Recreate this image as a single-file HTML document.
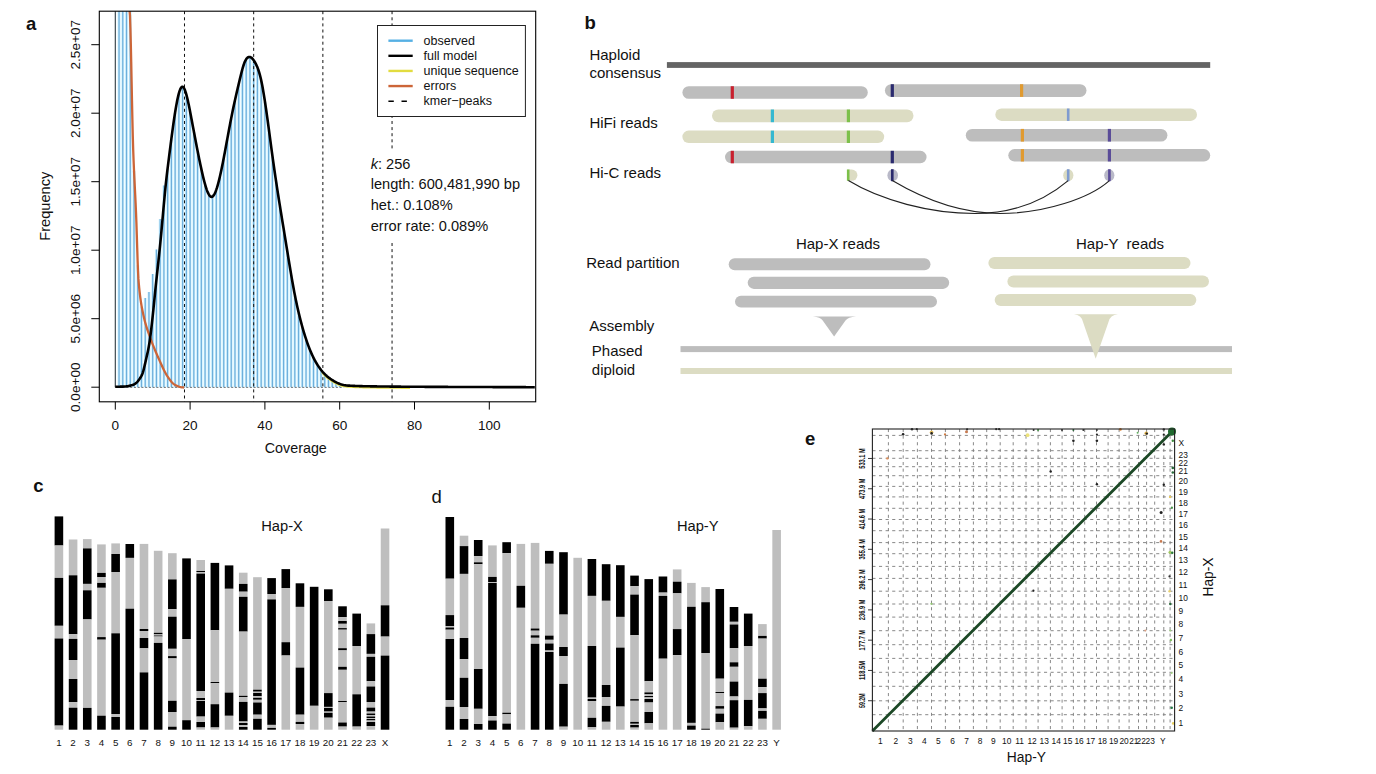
<!DOCTYPE html>
<html><head><meta charset="utf-8"><style>
html,body{margin:0;padding:0;background:#fff;width:1376px;height:774px;overflow:hidden}
svg{display:block}
text{font-family:"Liberation Sans", sans-serif;fill:#111}
</style></head><body>
<svg width="1376" height="774" viewBox="0 0 1376 774">
<rect width="1376" height="774" fill="#fff"/>
<g id="panel-a">
<path d="M119.04 387.2V11.2M122.78 387.2V11.2M126.52 387.2V11.2M130.26 387.2V11.2M134 387.2V171.08M137.74 387.2V265.2M141.48 387.2V306.38M145.22 387.2V298M148.96 387.2V292M152.7 387.2V274M156.44 387.2V249.6M160.18 387.2V219M163.92 387.2V185.4M167.66 387.2V168.74M171.4 387.2V139.37M175.14 387.2V113.02M178.88 387.2V94.18M182.62 387.2V87.55M186.36 387.2V95.36M190.1 387.2V112.39M193.84 387.2V132.21M197.58 387.2V151.65M201.32 387.2V169.76M205.06 387.2V185.14M208.8 387.2V195.23M212.54 387.2V197.31M216.28 387.2V190.49M220.02 387.2V176.84M223.76 387.2V158.74M227.5 387.2V138.59M231.24 387.2V118.75M234.98 387.2V100.93M238.72 387.2V84.72M242.46 387.2V69.69M246.2 387.2V60.01M249.94 387.2V57.81M253.68 387.2V61.02M257.42 387.2V68.19M261.16 387.2V81.02M264.9 387.2V102.11M268.64 387.2V128.53M272.38 387.2V156.4M276.12 387.2V182.41M279.86 387.2V206.42M283.6 387.2V229.41M287.34 387.2V252.35M291.08 387.2V274.99M294.82 387.2V295.64M298.56 387.2V313M302.3 387.2V327.65M306.04 387.2V339.97M309.78 387.2V350.2M313.52 387.2V358.57M317.26 387.2V365.32M321 387.2V370.69M324.74 387.2V374.91M328.48 387.2V378.22M332.22 387.2V380.85M335.96 387.2V382.98M339.7 387.2V384.67M343.44 387.2V385.79M347.18 387.2V386.33M350.92 387.2V386.53M354.66 387.2V386.72M358.4 387.2V386.85" stroke="#d2f3ff" stroke-width="3.0" fill="none"/>
<path d="M119.04 387.2V11.2M122.78 387.2V11.2M126.52 387.2V11.2M130.26 387.2V11.2M134 387.2V171.08M137.74 387.2V265.2M141.48 387.2V306.38M145.22 387.2V298M148.96 387.2V292M152.7 387.2V274M156.44 387.2V249.6M160.18 387.2V219M163.92 387.2V185.4M167.66 387.2V168.74M171.4 387.2V139.37M175.14 387.2V113.02M178.88 387.2V94.18M182.62 387.2V87.55M186.36 387.2V95.36M190.1 387.2V112.39M193.84 387.2V132.21M197.58 387.2V151.65M201.32 387.2V169.76M205.06 387.2V185.14M208.8 387.2V195.23M212.54 387.2V197.31M216.28 387.2V190.49M220.02 387.2V176.84M223.76 387.2V158.74M227.5 387.2V138.59M231.24 387.2V118.75M234.98 387.2V100.93M238.72 387.2V84.72M242.46 387.2V69.69M246.2 387.2V60.01M249.94 387.2V57.81M253.68 387.2V61.02M257.42 387.2V68.19M261.16 387.2V81.02M264.9 387.2V102.11M268.64 387.2V128.53M272.38 387.2V156.4M276.12 387.2V182.41M279.86 387.2V206.42M283.6 387.2V229.41M287.34 387.2V252.35M291.08 387.2V274.99M294.82 387.2V295.64M298.56 387.2V313M302.3 387.2V327.65M306.04 387.2V339.97M309.78 387.2V350.2M313.52 387.2V358.57M317.26 387.2V365.32M321 387.2V370.69M324.74 387.2V374.91M328.48 387.2V378.22M332.22 387.2V380.85M335.96 387.2V382.98M339.7 387.2V384.67M343.44 387.2V385.79M347.18 387.2V386.33M350.92 387.2V386.53M354.66 387.2V386.72M358.4 387.2V386.85" stroke="#6eaedb" stroke-width="1.25" fill="none"/>
<line x1="115.3" y1="11.2" x2="115.3" y2="387.2" stroke="#2d3a40" stroke-width="1.1"/>
<line x1="115.3" y1="387.4" x2="343.44" y2="387.4" stroke="#333" stroke-width="0.9" stroke-dasharray="2 1.74" opacity="0.75"/>
<line x1="184.49" y1="11.2" x2="184.49" y2="401.8" stroke="#111" stroke-width="1" stroke-dasharray="3 3.1"/>
<line x1="253.68" y1="11.2" x2="253.68" y2="401.8" stroke="#111" stroke-width="1" stroke-dasharray="3 3.1"/>
<line x1="322.87" y1="11.2" x2="322.87" y2="401.8" stroke="#111" stroke-width="1" stroke-dasharray="3 3.1"/>
<line x1="392.06" y1="11.2" x2="392.06" y2="401.8" stroke="#111" stroke-width="1" stroke-dasharray="3 3.1"/>
<path d="M322 372.22L323 373.37L324 374.45L325 375.46L326 376.41L327 377.3L328 378.13L329 378.92L330 379.65L331 380.35L332 381.01L333 381.63L334 382.22L335 382.78L336 383.3L337 383.79L338 384.25L339 384.69L340 385.09L341 385.44L342 385.74L343 386L344 386.21L345 386.38L346 386.51L347 386.62L348 386.69L349 386.74L350 386.75L351 386.83L352 386.9L353 386.94L354 386.99L355 387.03L356 387.07L357 387.11L358 387.14L359 387.17L360 387.2L361 387.23L362 387.26L363 387.29L364 387.31L365 387.33L366 387.35L367 387.37L368 387.39L369 387.41L370 387.43L371 387.44L372 387.46L373 387.47L374 387.49L375 387.5L376 387.51L377 387.53L378 387.54L379 387.55L380 387.57L381 387.58L382 387.59L383 387.6L384 387.61L385 387.63L386 387.64L387 387.65L388 387.66L389 387.67L390 387.68L391 387.69L392 387.7L393 387.71L394 387.72L395 387.73L396 387.73L397 387.74L398 387.75L399 387.76L400 387.77L401 387.78L402 387.78L403 387.79L404 387.8L405 387.81L406 387.81L407 387.82L408 387.83L409 387.83L410 387.84" stroke="#e6e04a" stroke-width="2.2" fill="none"/>
<rect x="366" y="150" width="162" height="91.5" fill="#fff"/>
<path d="M129.6 11.2L130 15.38L130.4 27.56L130.8 43.37L131.2 61.64L131.6 81.25L132 101.03L132.4 119.85L132.8 136.55L133.2 150L133.6 160.67L134 170.08L134.4 178.62L134.8 186.7L135.2 194.7L135.6 203.03L136 212.08L136.4 222.56L136.8 234.85L137.2 247.8L137.6 260.21L138 270.89L138.4 278.66L138.8 283.5L139.2 287.77L139.6 291.63L140 295.11L140.4 298.26L140.8 301.11L141.2 303.7L141.6 306.07L142 308.26L142.4 310.31L142.8 312.25L143.2 314.12L143.6 315.96L144 317.72L144.4 319.39L144.8 320.98L145.2 322.48L145.6 323.91L146 325.28L146.4 326.59L146.8 327.85L147.2 329.07L147.6 330.26L148 331.42L148.4 332.56L148.8 333.69L149.2 334.82L149.6 335.95L150 337.09L150.4 338.22L150.8 339.33L151.2 340.42L151.6 341.5L152 342.57L152.4 343.61L152.8 344.65L153.2 345.67L153.6 346.67L154 347.67L154.4 348.65L154.8 349.62L155.2 350.58L155.6 351.53L156 352.47L156.4 353.4L156.8 354.32L157.2 355.24L157.6 356.15L158 357.05L158.4 357.94L158.8 358.83L159.2 359.72L159.6 360.61L160 361.5L160.4 362.4L160.8 363.29L161.2 364.19L161.6 365.07L162 365.96L162.4 366.83L162.8 367.7L163.2 368.55L163.6 369.39L164 370.21L164.4 371.02L164.8 371.8L165.2 372.57L165.6 373.31L166 374.03L166.4 374.72L166.8 375.38L167.2 376L167.6 376.6L168 377.18L168.4 377.75L168.8 378.31L169.2 378.87L169.6 379.41L170 379.95L170.4 380.47L170.8 380.97L171.2 381.45L171.6 381.92L172 382.36L172.4 382.78L172.8 383.17L173.2 383.53L173.6 383.87L174 384.17L174.4 384.44L174.8 384.68L175.2 384.92L175.6 385.14L176 385.37L176.4 385.58L176.8 385.78L177.2 385.98L177.6 386.16L178 386.33L178.4 386.49L178.8 386.64L179.2 386.78L179.6 386.9L180 387L180.4 387.1L180.8 387.17L181.2 387.23L181.6 387.28L182 387.34L182.4 387.39L182.8 387.43L183.2 387.46L183.6 387.49L184 387.5" stroke="#cc6538" stroke-width="2.3" fill="none" stroke-linejoin="round"/>
<path d="M115.3 386.8L115.8 386.79L116.3 386.78L116.8 386.77L117.3 386.75L117.8 386.74L118.3 386.73L118.8 386.71L119.3 386.7L119.8 386.69L120.3 386.67L120.8 386.66L121.3 386.65L121.8 386.63L122.3 386.62L122.8 386.6L123.3 386.58L123.8 386.56L124.3 386.54L124.8 386.51L125.3 386.48L125.8 386.44L126.3 386.39L126.8 386.33L127.3 386.26L127.8 386.18L128.3 386.08L128.8 385.98L129.3 385.87L129.8 385.76L130.3 385.63L130.8 385.49L131.3 385.34L131.8 385.19L132.3 385.03L132.8 384.85L133.3 384.67L133.8 384.48L134.3 384.24L134.8 383.95L135.3 383.61L135.8 383.23L136.3 382.8L136.8 382.33L137.3 381.81L137.8 381.25L138.3 380.64L138.8 379.99L139.3 379.31L139.8 378.58L140.3 377.81L140.8 377L141.3 376.15L141.8 375.22L142.3 374.02L142.8 372.57L143.3 370.91L143.8 369.05L144.3 367.04L144.8 364.91L145.3 362.69L145.8 360.41L146.3 358.19L146.8 356.04L147.3 353.89L147.8 351.66L148.3 349.25L148.8 346.6L149.3 343.67L149.8 340.43L150.3 336.86L150.8 332.93L151.3 328.72L151.8 324.3L152.3 319.78L152.8 315.13L153.3 310.32L153.8 305.39L154.3 300.39L154.8 295.39L155.3 290.44L155.8 285.6L156.3 280.84L156.8 276.14L157.3 271.5L157.8 266.89L158.3 262.28L158.8 257.64L159.3 252.93L159.8 248.1L160.3 243.12L160.8 237.96L161.3 232.62L161.8 227.16L162.3 221.62L162.8 216.05L163.3 210.48L163.8 204.96L164.3 199.52L164.8 194.23L165.3 189.11L165.8 184.22L166.3 179.57L166.8 175.15L167.3 170.91L167.8 166.81L168.3 162.8L168.8 158.85L169.3 154.92L169.8 150.99L170.3 147.08L170.8 143.19L171.3 139.34L171.8 135.54L172.3 131.8L172.8 128.12L173.3 124.54L173.8 121.04L174.3 117.65L174.8 114.37L175.3 111.23L175.8 108.21L176.3 105.35L176.8 102.65L177.3 100.12L177.8 97.78L178.3 95.62L178.8 93.67L179.3 91.94L179.8 90.44L180.3 89.17L180.8 88.16L181.3 87.4L181.8 86.92L182.3 86.72L182.8 86.81L183.3 87.18L183.8 87.81L184.3 88.69L184.8 89.8L185.3 91.12L185.8 92.64L186.3 94.35L186.8 96.22L187.3 98.24L187.8 100.39L188.3 102.67L188.8 105.05L189.3 107.51L189.8 110.04L190.3 112.63L190.8 115.26L191.3 117.91L191.8 120.57L192.3 123.23L192.8 125.89L193.3 128.54L193.8 131.2L194.3 133.84L194.8 136.47L195.3 139.1L195.8 141.71L196.3 144.3L196.8 146.88L197.3 149.43L197.8 151.96L198.3 154.47L198.8 156.95L199.3 159.4L199.8 161.82L200.3 164.21L200.8 166.56L201.3 168.87L201.8 171.14L202.3 173.35L202.8 175.51L203.3 177.6L203.8 179.61L204.3 181.55L204.8 183.41L205.3 185.17L205.8 186.84L206.3 188.4L206.8 189.86L207.3 191.19L207.8 192.4L208.3 193.48L208.8 194.43L209.3 195.23L209.8 195.88L210.3 196.37L210.8 196.7L211.3 196.86L211.8 196.85L212.3 196.66L212.8 196.31L213.3 195.8L213.8 195.13L214.3 194.3L214.8 193.34L215.3 192.24L215.8 191L216.3 189.63L216.8 188.15L217.3 186.54L217.8 184.83L218.3 183.01L218.8 181.1L219.3 179.09L219.8 176.99L220.3 174.81L220.8 172.55L221.3 170.23L221.8 167.83L222.3 165.38L222.8 162.88L223.3 160.33L223.8 157.73L224.3 155.1L224.8 152.44L225.3 149.76L225.8 147.05L226.3 144.33L226.8 141.61L227.3 138.88L227.8 136.15L228.3 133.43L228.8 130.73L229.3 128.05L229.8 125.4L230.3 122.77L230.8 120.19L231.3 117.65L231.8 115.15L232.3 112.69L232.8 110.27L233.3 107.89L233.8 105.54L234.3 103.23L234.8 100.95L235.3 98.69L235.8 96.47L236.3 94.27L236.8 92.09L237.3 89.94L237.8 87.8L238.3 85.68L238.8 83.58L239.3 81.49L239.8 79.41L240.3 77.35L240.8 75.3L241.3 73.3L241.8 71.35L242.3 69.47L242.8 67.69L243.3 66.02L243.8 64.48L244.3 63.1L244.8 61.86L245.3 60.78L245.8 59.85L246.3 59.06L246.8 58.4L247.3 57.88L247.8 57.47L248.3 57.19L248.8 57.01L249.3 56.95L249.8 56.98L250.3 57.11L250.8 57.33L251.3 57.64L251.8 58.04L252.3 58.51L252.8 59.07L253.3 59.7L253.8 60.39L254.3 61.16L254.8 61.99L255.3 62.88L255.8 63.83L256.3 64.84L256.8 65.93L257.3 67.1L257.8 68.36L258.3 69.74L258.8 71.23L259.3 72.85L259.8 74.62L260.3 76.54L260.8 78.62L261.3 80.87L261.8 83.29L262.3 85.85L262.8 88.57L263.3 91.41L263.8 94.38L264.3 97.47L264.8 100.66L265.3 103.95L265.8 107.33L266.3 110.78L266.8 114.31L267.3 117.9L267.8 121.53L268.3 125.21L268.8 128.92L269.3 132.66L269.8 136.4L270.3 140.16L270.8 143.9L271.3 147.63L271.8 151.34L272.3 155.02L272.8 158.65L273.3 162.24L273.8 165.78L274.3 169.26L274.8 172.71L275.3 176.11L275.8 179.48L276.3 182.8L276.8 186.09L277.3 189.35L277.8 192.58L278.3 195.78L278.8 198.96L279.3 202.11L279.8 205.24L280.3 208.35L280.8 211.45L281.3 214.54L281.8 217.61L282.3 220.67L282.8 223.73L283.3 226.78L283.8 229.83L284.3 232.88L284.8 235.94L285.3 238.99L285.8 242.06L286.3 245.14L286.8 248.22L287.3 251.3L287.8 254.38L288.3 257.45L288.8 260.51L289.3 263.55L289.8 266.58L290.3 269.58L290.8 272.55L291.3 275.48L291.8 278.38L292.3 281.24L292.8 284.05L293.3 286.81L293.8 289.51L294.3 292.16L294.8 294.74L295.3 297.25L295.8 299.7L296.3 302.09L296.8 304.42L297.3 306.7L297.8 308.92L298.3 311.09L298.8 313.22L299.3 315.3L299.8 317.33L300.3 319.32L300.8 321.27L301.3 323.17L301.8 325.03L302.3 326.85L302.8 328.63L303.3 330.36L303.8 332.06L304.3 333.72L304.8 335.33L305.3 336.91L305.8 338.45L306.3 339.95L306.8 341.41L307.3 342.84L307.8 344.23L308.3 345.59L308.8 346.91L309.3 348.2L309.8 349.45L310.3 350.67L310.8 351.86L311.3 353.01L311.8 354.14L312.3 355.23L312.8 356.29L313.3 357.33L313.8 358.33L314.3 359.31L314.8 360.25L315.3 361.17L315.8 362.07L316.3 362.93L316.8 363.77L317.3 364.59L317.8 365.38L318.3 366.14L318.8 366.89L319.3 367.61L319.8 368.3L320.3 368.98L320.8 369.63L321.3 370.27L321.8 370.88L322.3 371.47L322.8 372.05L323.3 372.6L323.8 373.14L324.3 373.66L324.8 374.17L325.3 374.66L325.8 375.13L326.3 375.58L326.8 376.03L327.3 376.46L327.8 376.87L328.3 377.27L328.8 377.66L329.3 378.04L329.8 378.41L330.3 378.77L330.8 379.11L331.3 379.45L331.8 379.78L332.3 380.1L332.8 380.41L333.3 380.71L333.8 381L334.3 381.29L334.8 381.57L335.3 381.84L335.8 382.1L336.3 382.35L336.8 382.6L337.3 382.83L337.8 383.06L338.3 383.29L338.8 383.5L339.3 383.71L339.8 383.91L340.3 384.1L340.8 384.28L341.3 384.44L341.8 384.59L342.3 384.72L342.8 384.85L343.3 384.96L343.8 385.07L344.3 385.16L344.8 385.25L345.3 385.32L345.8 385.39L346.3 385.45L346.8 385.5L347.3 385.54L347.8 385.58L348.3 385.61L348.8 385.63L349.3 385.64L349.8 385.65L350.3 385.68L350.8 385.72L351.3 385.75L351.8 385.78L352.3 385.81L352.8 385.83L353.3 385.86L353.8 385.88L354.3 385.9L354.8 385.92L355.3 385.94L355.8 385.96L356.3 385.98L356.8 386L357.3 386.02L357.8 386.03L358.3 386.05L358.8 386.07L359.3 386.08L359.8 386.1L360.3 386.11L360.8 386.13L361.3 386.14L361.8 386.15L362.3 386.17L362.8 386.18L363.3 386.19L363.8 386.2L364.3 386.22L364.8 386.23L365.3 386.24L365.8 386.25L366.3 386.26L366.8 386.27L367.3 386.28L367.8 386.29L368.3 386.3L368.8 386.3L369.3 386.31L369.8 386.32L370.3 386.33L370.8 386.34L371.3 386.35L371.8 386.35L372.3 386.36L372.8 386.37L373.3 386.38L373.8 386.38L374.3 386.39L374.8 386.4L375.3 386.4L375.8 386.41L376.3 386.42L376.8 386.42L377.3 386.43L377.8 386.44L378.3 386.44L378.8 386.45L379.3 386.46L379.8 386.46L380.3 386.47L380.8 386.48L381.3 386.48L381.8 386.49L382.3 386.49L382.8 386.5L383.3 386.51L383.8 386.51L384.3 386.52L384.8 386.52L385.3 386.53L385.8 386.53L386.3 386.54L386.8 386.55L387.3 386.55L387.8 386.56L388.3 386.56L388.8 386.57L389.3 386.57L389.8 386.58L390.3 386.58L390.8 386.59L391.3 386.59L391.8 386.6L392.3 386.6L392.8 386.61L393.3 386.61L393.8 386.62L394.3 386.62L394.8 386.62L395.3 386.63L395.8 386.63L396.3 386.64L396.8 386.64L397.3 386.65L397.8 386.65L398.3 386.65L398.8 386.66L399.3 386.66L399.8 386.67L400.3 386.67L400.8 386.67L401.3 386.68L401.8 386.68L402.3 386.69L402.8 386.69L403.3 386.69L403.8 386.7L404.3 386.7L404.8 386.7L405.3 386.71L405.8 386.71L406.3 386.72L406.8 386.72L407.3 386.72L407.8 386.73L408.3 386.73L408.8 386.73L409.3 386.74L409.8 386.74L410.3 386.74L410.8 386.75L411.3 386.75L411.8 386.75L412.3 386.75L412.8 386.76L413.3 386.76L413.8 386.76L414.3 386.77L414.8 386.77L415.3 386.77L415.8 386.78L416.3 386.78L416.8 386.78L417.3 386.78L417.8 386.79L418.3 386.79L418.8 386.79L419.3 386.8L419.8 386.8L420.3 386.8L420.8 386.8L421.3 386.81L421.8 386.81L422.3 386.81L422.8 386.82L423.3 386.82L423.8 386.82L424.3 386.82L424.8 386.83L425.3 386.83L425.8 386.83L426.3 386.83L426.8 386.84L427.3 386.84L427.8 386.84L428.3 386.84L428.8 386.85L429.3 386.85L429.8 386.85L430.3 386.85L430.8 386.85L431.3 386.86L431.8 386.86L432.3 386.86L432.8 386.86L433.3 386.87L433.8 386.87L434.3 386.87L434.8 386.87L435.3 386.87L435.8 386.88L436.3 386.88L436.8 386.88L437.3 386.88L437.8 386.88L438.3 386.89L438.8 386.89L439.3 386.89L439.8 386.89L440.3 386.89L440.8 386.9L441.3 386.9L441.8 386.9L442.3 386.9L442.8 386.9L443.3 386.91L443.8 386.91L444.3 386.91L444.8 386.91L445.3 386.91L445.8 386.92L446.3 386.92L446.8 386.92L447.3 386.92L447.8 386.92L448.3 386.93L448.8 386.93L449.3 386.93L449.8 386.93L450.3 386.93L450.8 386.93L451.3 386.94L451.8 386.94L452.3 386.94L452.8 386.94L453.3 386.94L453.8 386.94L454.3 386.95L454.8 386.95L455.3 386.95L455.8 386.95L456.3 386.95L456.8 386.95L457.3 386.96L457.8 386.96L458.3 386.96L458.8 386.96L459.3 386.96L459.8 386.97L460.3 386.97L460.8 386.97L461.3 386.97L461.8 386.97L462.3 386.97L462.8 386.98L463.3 386.98L463.8 386.98L464.3 386.98L464.8 386.98L465.3 386.98L465.8 386.99L466.3 386.99L466.8 386.99L467.3 386.99L467.8 386.99L468.3 386.99L468.8 387L469.3 387L469.8 387L470.3 387L470.8 387L471.3 387L471.8 387.01L472.3 387.01L472.8 387.01L473.3 387.01L473.8 387.01L474.3 387.01L474.8 387.02L475.3 387.02L475.8 387.02L476.3 387.02L476.8 387.02L477.3 387.03L477.8 387.03L478.3 387.03L478.8 387.03L479.3 387.03L479.8 387.03L480.3 387.04L480.8 387.04L481.3 387.04L481.8 387.04L482.3 387.04L482.8 387.04L483.3 387.05L483.8 387.05L484.3 387.05L484.8 387.05L485.3 387.05L485.8 387.05L486.3 387.06L486.8 387.06L487.3 387.06L487.8 387.06L488.3 387.06L488.8 387.06L489.3 387.07L489.8 387.07L490.3 387.07L490.8 387.07L491.3 387.07L491.8 387.07L492.3 387.07L492.8 387.08L493.3 387.08L493.8 387.08L494.3 387.08L494.8 387.08L495.3 387.08L495.8 387.09L496.3 387.09L496.8 387.09L497.3 387.09L497.8 387.09L498.3 387.09L498.8 387.1L499.3 387.1L499.8 387.1L500.3 387.1L500.8 387.1L501.3 387.1L501.8 387.1L502.3 387.11L502.8 387.11L503.3 387.11L503.8 387.11L504.3 387.11L504.8 387.11L505.3 387.12L505.8 387.12L506.3 387.12L506.8 387.12L507.3 387.12L507.8 387.12L508.3 387.12L508.8 387.13L509.3 387.13L509.8 387.13L510.3 387.13L510.8 387.13L511.3 387.13L511.8 387.13L512.3 387.14L512.8 387.14L513.3 387.14L513.8 387.14L514.3 387.14L514.8 387.14L515.3 387.15L515.8 387.15L516.3 387.15L516.8 387.15L517.3 387.15L517.8 387.15L518.3 387.15L518.8 387.16L519.3 387.16L519.8 387.16L520.3 387.16L520.8 387.16L521.3 387.16L521.8 387.16L522.3 387.16L522.8 387.17L523.3 387.17L523.8 387.17L524.3 387.17L524.8 387.17L525.3 387.17L525.8 387.17L526.3 387.18L526.8 387.18L527.3 387.18L527.8 387.18L528.3 387.18L528.8 387.18L529.3 387.18L529.8 387.18L530.3 387.19L530.8 387.19L531.3 387.19L531.8 387.19L532.3 387.19L532.8 387.19L533.3 387.19L533.8 387.2L534.3 387.2L534.8 387.2" stroke="#000" stroke-width="2.6" fill="none" stroke-linejoin="round"/>
<rect x="99.3" y="11.2" width="436.4" height="390.6" fill="none" stroke="#000" stroke-width="1.1"/>
<line x1="91.3" y1="387.2" x2="99.3" y2="387.2" stroke="#000" stroke-width="1"/>
<text transform="translate(80.2 387.2) rotate(-90)" text-anchor="middle" font-size="13.6">0.0e+00</text>
<line x1="91.3" y1="318.7" x2="99.3" y2="318.7" stroke="#000" stroke-width="1"/>
<text transform="translate(80.2 318.7) rotate(-90)" text-anchor="middle" font-size="13.6">5.0e+06</text>
<line x1="91.3" y1="250.2" x2="99.3" y2="250.2" stroke="#000" stroke-width="1"/>
<text transform="translate(80.2 250.2) rotate(-90)" text-anchor="middle" font-size="13.6">1.0e+07</text>
<line x1="91.3" y1="181.7" x2="99.3" y2="181.7" stroke="#000" stroke-width="1"/>
<text transform="translate(80.2 181.7) rotate(-90)" text-anchor="middle" font-size="13.6">1.5e+07</text>
<line x1="91.3" y1="113.2" x2="99.3" y2="113.2" stroke="#000" stroke-width="1"/>
<text transform="translate(80.2 113.2) rotate(-90)" text-anchor="middle" font-size="13.6">2.0e+07</text>
<line x1="91.3" y1="44.7" x2="99.3" y2="44.7" stroke="#000" stroke-width="1"/>
<text transform="translate(80.2 44.7) rotate(-90)" text-anchor="middle" font-size="13.6">2.5e+07</text>
<line x1="115.3" y1="401.8" x2="115.3" y2="409.6" stroke="#000" stroke-width="1"/>
<text x="115.3" y="429.6" text-anchor="middle" font-size="13.6">0</text>
<line x1="190.1" y1="401.8" x2="190.1" y2="409.6" stroke="#000" stroke-width="1"/>
<text x="190.1" y="429.6" text-anchor="middle" font-size="13.6">20</text>
<line x1="264.9" y1="401.8" x2="264.9" y2="409.6" stroke="#000" stroke-width="1"/>
<text x="264.9" y="429.6" text-anchor="middle" font-size="13.6">40</text>
<line x1="339.7" y1="401.8" x2="339.7" y2="409.6" stroke="#000" stroke-width="1"/>
<text x="339.7" y="429.6" text-anchor="middle" font-size="13.6">60</text>
<line x1="414.5" y1="401.8" x2="414.5" y2="409.6" stroke="#000" stroke-width="1"/>
<text x="414.5" y="429.6" text-anchor="middle" font-size="13.6">80</text>
<line x1="489.3" y1="401.8" x2="489.3" y2="409.6" stroke="#000" stroke-width="1"/>
<text x="489.3" y="429.6" text-anchor="middle" font-size="13.6">100</text>
<text x="295.8" y="452.5" text-anchor="middle" font-size="14.3">Coverage</text>
<text transform="translate(50.2 206.2) rotate(-90)" text-anchor="middle" font-size="14.6">Frequency</text>
<rect x="377.5" y="25.5" width="147.9" height="91" fill="#fff" stroke="#222" stroke-width="1"/>
<line x1="388.4" y1="40.7" x2="412.7" y2="40.7" stroke="#56b0e4" stroke-width="2.4"/>
<text x="423.6" y="45" font-size="12.5">observed</text>
<line x1="388.4" y1="55.82" x2="412.7" y2="55.82" stroke="#000" stroke-width="2.4"/>
<text x="423.6" y="60.12" font-size="12.5">full model</text>
<line x1="388.4" y1="70.94" x2="412.7" y2="70.94" stroke="#e2dc40" stroke-width="2.4"/>
<text x="423.6" y="75.24" font-size="12.5">unique sequence</text>
<line x1="388.4" y1="86.06" x2="412.7" y2="86.06" stroke="#cc6538" stroke-width="2.4"/>
<text x="423.6" y="90.36" font-size="12.5">errors</text>
<line x1="388.4" y1="101.18" x2="412.7" y2="101.18" stroke="#000" stroke-width="1.6" stroke-dasharray="5.4 7.7"/>
<text x="423.6" y="105.48" font-size="12.5">kmer−peaks</text>
<text x="370.7" y="168.7" font-size="14.6"><tspan font-style="italic">k</tspan>: 256</text>
<text x="370.7" y="189.3" font-size="14.6">length: 600,481,990 bp</text>
<text x="370.7" y="209.9" font-size="14.6">het.: 0.108%</text>
<text x="370.7" y="230.5" font-size="14.6">error rate: 0.089%</text>
<text x="26" y="29.7" font-size="18.5" font-weight="bold">a</text>
</g>
<g id="panel-b">
<text x="584.5" y="29" font-size="18.5" font-weight="bold">b</text>
<rect x="666.9" y="62.1" width="543.3" height="5.8" fill="#646464"/>
<rect x="682.4" y="86.2" width="185.4" height="12.6" rx="6.3" ry="6.3" fill="#bdbdbd"/>
<rect x="730.7" y="86.2" width="3.2" height="12.6" fill="#c8202e"/>
<rect x="884.9" y="84.2" width="201.6" height="12.7" rx="6.35" ry="6.35" fill="#bdbdbd"/>
<rect x="890.7" y="84.2" width="3.2" height="12.7" fill="#2a2a6e"/>
<rect x="1020" y="84.2" width="3.2" height="12.7" fill="#e09a30"/>
<rect x="712" y="109.5" width="201.5" height="12.7" rx="6.35" ry="6.35" fill="#dcdcc3"/>
<rect x="770.8" y="109.5" width="3.2" height="12.7" fill="#35b8d0"/>
<rect x="846.8" y="109.5" width="3.2" height="12.7" fill="#7cc04a"/>
<rect x="995.3" y="108.5" width="201.7" height="12.4" rx="6.2" ry="6.2" fill="#dcdcc3"/>
<rect x="1066.9" y="108.5" width="2.6" height="12.4" fill="#7f9bd0"/>
<rect x="682.4" y="130.6" width="201.8" height="12.4" rx="6.2" ry="6.2" fill="#dcdcc3"/>
<rect x="770.8" y="130.6" width="3.2" height="12.4" fill="#35b8d0"/>
<rect x="846.8" y="130.6" width="3.2" height="12.4" fill="#7cc04a"/>
<rect x="965.8" y="128.9" width="201.6" height="12.7" rx="6.35" ry="6.35" fill="#bdbdbd"/>
<rect x="1020.8" y="128.9" width="3.2" height="12.7" fill="#e09a30"/>
<rect x="1107.8" y="128.9" width="3.2" height="12.7" fill="#5a4c98"/>
<rect x="725" y="150.8" width="201.6" height="12.5" rx="6.25" ry="6.25" fill="#bdbdbd"/>
<rect x="730.7" y="150.8" width="3.2" height="12.5" fill="#c8202e"/>
<rect x="890.7" y="150.8" width="3.2" height="12.5" fill="#2a2a6e"/>
<rect x="1008.3" y="149.1" width="201.9" height="12.4" rx="6.2" ry="6.2" fill="#bdbdbd"/>
<rect x="1020.8" y="149.1" width="3.2" height="12.4" fill="#e09a30"/>
<rect x="1107.8" y="149.1" width="3.2" height="12.4" fill="#5a4c98"/>
<path d="M847.2 169.5H851.75A5.65 5.65 0 0 1 851.75 180.8H847.2Z" fill="#dcdcc3"/>
<rect x="846.9" y="169.5" width="2.6" height="11.3" fill="#7cc04a"/>
<rect x="887.4" y="169.2" width="10.6" height="12" rx="6" ry="6" fill="#b9b9c8"/>
<rect x="891" y="169.2" width="2.6" height="12" fill="#2a2a6e"/>
<rect x="1063.2" y="169.2" width="10.2" height="12" rx="6" ry="6" fill="#dcdcc3"/>
<rect x="1066.9" y="169.2" width="2.6" height="12" fill="#7f9bd0"/>
<rect x="1104.2" y="169.2" width="10.2" height="12" rx="6" ry="6" fill="#b9b9c8"/>
<rect x="1108.1" y="169.2" width="2.6" height="12" fill="#5a4c98"/>
<path d="M848.4 180.6 C 880 200, 930 213.5, 975 213.5 C 1020 213.5, 1050 196, 1068.2 180.6" stroke="#222" stroke-width="1.15" fill="none"/>
<path d="M892.3 180.6 C 925 200, 960 213.5, 1000 213.5 C 1045 213.5, 1090 198, 1109.4 180.6" stroke="#222" stroke-width="1.15" fill="none"/>
<text x="589.4" y="60" font-size="15">Haploid</text>
<text x="589.4" y="77.6" font-size="15">consensus</text>
<text x="589.4" y="128" font-size="15">HiFi reads</text>
<text x="589.4" y="178.4" font-size="15">Hi-C reads</text>
<text x="586.2" y="267.6" font-size="15">Read partition</text>
<text x="589.3" y="331" font-size="15">Assembly</text>
<text x="591.8" y="355.5" font-size="15">Phased</text>
<text x="591.8" y="374.5" font-size="15">diploid</text>
<text x="795.9" y="248.9" font-size="15">Hap-X reads</text>
<text x="1076" y="249" font-size="15" xml:space="preserve">Hap-Y  reads</text>
<rect x="728.7" y="258.3" width="201.8" height="11.9" rx="5.95" ry="5.95" fill="#bdbdbd"/>
<rect x="747.7" y="276.7" width="201.5" height="12.2" rx="6.1" ry="6.1" fill="#bdbdbd"/>
<rect x="735" y="295.7" width="202" height="11.9" rx="5.95" ry="5.95" fill="#bdbdbd"/>
<rect x="988.4" y="256.9" width="202.1" height="12" rx="6" ry="6" fill="#dcdcc3"/>
<rect x="1007.4" y="275.4" width="201.6" height="12.1" rx="6.05" ry="6.05" fill="#dcdcc3"/>
<rect x="994.7" y="294.1" width="201.6" height="12" rx="6" ry="6" fill="#dcdcc3"/>
<rect x="680.5" y="346.1" width="551.5" height="6" fill="#bdbdbd"/>
<rect x="680.5" y="368" width="551.5" height="6" fill="#dcdcc3"/>
<path d="M812.9 316.4 H856.1 Q848 317 845.5 320.5 L834.1 336.4 L822.7 320.5 Q820.5 317 812.9 316.4 Z" fill="#bdbdbd"/>
<path d="M1074 314.3 H1118 Q1110 315 1108.5 322 L1095.7 358.7 L1083 322 Q1081.5 315 1074 314.3 Z" fill="#dcdcc3"/>
</g>
<g>
<rect x="54.6" y="516.4" width="8.6" height="29.1" fill="#000"/>
<rect x="54.6" y="545.5" width="8.6" height="32.4" fill="#bebebe"/>
<rect x="54.6" y="577.9" width="8.6" height="47.9" fill="#000"/>
<rect x="54.6" y="625.8" width="8.6" height="12.7" fill="#bebebe"/>
<rect x="54.6" y="638.5" width="8.6" height="87.1" fill="#000"/>
<rect x="54.6" y="725.6" width="8.6" height="4.1" fill="#bebebe"/>
<text x="58.9" y="745.7" text-anchor="middle" font-size="9.8" fill="#1a1a1a">1</text>
<rect x="68.78" y="539.5" width="8.6" height="35.8" fill="#bebebe"/>
<rect x="68.78" y="575.3" width="8.6" height="58.9" fill="#000"/>
<rect x="68.78" y="634.2" width="8.6" height="4.7" fill="#bebebe"/>
<rect x="68.78" y="638.9" width="8.6" height="21.1" fill="#000"/>
<rect x="68.78" y="660" width="8.6" height="19" fill="#bebebe"/>
<rect x="68.78" y="679" width="8.6" height="23.1" fill="#000"/>
<rect x="68.78" y="702.1" width="8.6" height="5.6" fill="#bebebe"/>
<rect x="68.78" y="707.7" width="8.6" height="22" fill="#000"/>
<text x="73.08" y="745.7" text-anchor="middle" font-size="9.8" fill="#1a1a1a">2</text>
<rect x="82.96" y="539.1" width="8.6" height="9.3" fill="#bebebe"/>
<rect x="82.96" y="548.4" width="8.6" height="35.5" fill="#000"/>
<rect x="82.96" y="583.9" width="8.6" height="6.4" fill="#bebebe"/>
<rect x="82.96" y="590.3" width="8.6" height="29.1" fill="#000"/>
<rect x="82.96" y="619.4" width="8.6" height="88.5" fill="#bebebe"/>
<rect x="82.96" y="707.9" width="8.6" height="21.8" fill="#000"/>
<text x="87.26" y="745.7" text-anchor="middle" font-size="9.8" fill="#1a1a1a">3</text>
<rect x="97.14" y="544.4" width="8.6" height="28.5" fill="#bebebe"/>
<rect x="97.14" y="572.9" width="8.6" height="4.1" fill="#000"/>
<rect x="97.14" y="577" width="8.6" height="5.9" fill="#bebebe"/>
<rect x="97.14" y="582.9" width="8.6" height="4.9" fill="#000"/>
<rect x="97.14" y="587.8" width="8.6" height="49.3" fill="#bebebe"/>
<rect x="97.14" y="637.1" width="8.6" height="2.6" fill="#000"/>
<rect x="97.14" y="639.7" width="8.6" height="76" fill="#bebebe"/>
<rect x="97.14" y="715.7" width="8.6" height="14" fill="#000"/>
<text x="101.44" y="745.7" text-anchor="middle" font-size="9.8" fill="#1a1a1a">4</text>
<rect x="111.32" y="543.4" width="8.6" height="10.6" fill="#bebebe"/>
<rect x="111.32" y="554" width="8.6" height="18" fill="#000"/>
<rect x="111.32" y="572" width="8.6" height="61.3" fill="#bebebe"/>
<rect x="111.32" y="633.3" width="8.6" height="80.7" fill="#000"/>
<rect x="111.32" y="714" width="8.6" height="3" fill="#bebebe"/>
<rect x="111.32" y="717" width="8.6" height="12.7" fill="#000"/>
<text x="115.62" y="745.7" text-anchor="middle" font-size="9.8" fill="#1a1a1a">5</text>
<rect x="125.5" y="544" width="8.6" height="13.9" fill="#000"/>
<rect x="125.5" y="557.9" width="8.6" height="50.8" fill="#bebebe"/>
<rect x="125.5" y="608.7" width="8.6" height="121" fill="#000"/>
<text x="129.8" y="745.7" text-anchor="middle" font-size="9.8" fill="#1a1a1a">6</text>
<rect x="139.68" y="543.9" width="8.6" height="85.1" fill="#bebebe"/>
<rect x="139.68" y="629" width="8.6" height="2" fill="#000"/>
<rect x="139.68" y="631" width="8.6" height="7" fill="#bebebe"/>
<rect x="139.68" y="638" width="8.6" height="10.3" fill="#000"/>
<rect x="139.68" y="648.3" width="8.6" height="24.1" fill="#bebebe"/>
<rect x="139.68" y="672.4" width="8.6" height="57.3" fill="#000"/>
<text x="143.98" y="745.7" text-anchor="middle" font-size="9.8" fill="#1a1a1a">7</text>
<rect x="153.86" y="550.8" width="8.6" height="82" fill="#bebebe"/>
<rect x="153.86" y="632.8" width="8.6" height="1.6" fill="#000"/>
<rect x="153.86" y="634.4" width="8.6" height="1.1" fill="#bebebe"/>
<rect x="153.86" y="635.5" width="8.6" height="1" fill="#000"/>
<rect x="153.86" y="636.5" width="8.6" height="6.4" fill="#bebebe"/>
<rect x="153.86" y="642.9" width="8.6" height="86.8" fill="#000"/>
<text x="158.16" y="745.7" text-anchor="middle" font-size="9.8" fill="#1a1a1a">8</text>
<rect x="168.04" y="553.2" width="8.6" height="26.2" fill="#bebebe"/>
<rect x="168.04" y="579.4" width="8.6" height="29.8" fill="#000"/>
<rect x="168.04" y="609.2" width="8.6" height="7.5" fill="#bebebe"/>
<rect x="168.04" y="616.7" width="8.6" height="32.1" fill="#000"/>
<rect x="168.04" y="648.8" width="8.6" height="7.3" fill="#bebebe"/>
<rect x="168.04" y="656.1" width="8.6" height="2.3" fill="#000"/>
<rect x="168.04" y="658.4" width="8.6" height="42.4" fill="#bebebe"/>
<rect x="168.04" y="700.8" width="8.6" height="11.2" fill="#000"/>
<rect x="168.04" y="712" width="8.6" height="14.7" fill="#bebebe"/>
<rect x="168.04" y="726.7" width="8.6" height="3" fill="#000"/>
<text x="172.34" y="745.7" text-anchor="middle" font-size="9.8" fill="#1a1a1a">9</text>
<rect x="182.22" y="558.4" width="8.6" height="80.6" fill="#000"/>
<rect x="182.22" y="639" width="8.6" height="81.2" fill="#bebebe"/>
<rect x="182.22" y="720.2" width="8.6" height="9.5" fill="#000"/>
<text x="186.52" y="745.7" text-anchor="middle" font-size="9.8" fill="#1a1a1a">10</text>
<rect x="196.4" y="560" width="8.6" height="11" fill="#bebebe"/>
<rect x="196.4" y="571" width="8.6" height="1" fill="#000"/>
<rect x="196.4" y="572" width="8.6" height="1.6" fill="#bebebe"/>
<rect x="196.4" y="573.6" width="8.6" height="117.4" fill="#000"/>
<rect x="196.4" y="691" width="8.6" height="7" fill="#bebebe"/>
<rect x="196.4" y="698" width="8.6" height="2" fill="#000"/>
<rect x="196.4" y="700" width="8.6" height="1" fill="#bebebe"/>
<rect x="196.4" y="701" width="8.6" height="15.6" fill="#000"/>
<rect x="196.4" y="716.6" width="8.6" height="5.4" fill="#bebebe"/>
<rect x="196.4" y="722" width="8.6" height="5.5" fill="#000"/>
<rect x="196.4" y="727.5" width="8.6" height="2.2" fill="#bebebe"/>
<text x="200.7" y="745.7" text-anchor="middle" font-size="9.8" fill="#1a1a1a">11</text>
<rect x="210.58" y="562.9" width="8.6" height="67.3" fill="#000"/>
<rect x="210.58" y="630.2" width="8.6" height="51.8" fill="#bebebe"/>
<rect x="210.58" y="682" width="8.6" height="1.2" fill="#000"/>
<rect x="210.58" y="683.2" width="8.6" height="21" fill="#bebebe"/>
<rect x="210.58" y="704.2" width="8.6" height="23.3" fill="#000"/>
<rect x="210.58" y="727.5" width="8.6" height="2.2" fill="#bebebe"/>
<text x="214.88" y="745.7" text-anchor="middle" font-size="9.8" fill="#1a1a1a">12</text>
<rect x="224.76" y="565.4" width="8.6" height="23.4" fill="#000"/>
<rect x="224.76" y="588.8" width="8.6" height="103.8" fill="#bebebe"/>
<rect x="224.76" y="692.6" width="8.6" height="23.2" fill="#000"/>
<rect x="224.76" y="715.8" width="8.6" height="13.9" fill="#bebebe"/>
<text x="229.06" y="745.7" text-anchor="middle" font-size="9.8" fill="#1a1a1a">13</text>
<rect x="238.94" y="572.7" width="8.6" height="11.2" fill="#bebebe"/>
<rect x="238.94" y="583.9" width="8.6" height="7.8" fill="#000"/>
<rect x="238.94" y="591.7" width="8.6" height="5.1" fill="#bebebe"/>
<rect x="238.94" y="596.8" width="8.6" height="34.8" fill="#000"/>
<rect x="238.94" y="631.6" width="8.6" height="64.2" fill="#bebebe"/>
<rect x="238.94" y="695.8" width="8.6" height="1.2" fill="#000"/>
<rect x="238.94" y="697" width="8.6" height="4.9" fill="#bebebe"/>
<rect x="238.94" y="701.9" width="8.6" height="19.6" fill="#000"/>
<rect x="238.94" y="721.5" width="8.6" height="1.5" fill="#bebebe"/>
<rect x="238.94" y="723" width="8.6" height="2" fill="#000"/>
<rect x="238.94" y="725" width="8.6" height="2" fill="#bebebe"/>
<rect x="238.94" y="727" width="8.6" height="2.7" fill="#000"/>
<text x="243.24" y="745.7" text-anchor="middle" font-size="9.8" fill="#1a1a1a">14</text>
<rect x="253.12" y="577.2" width="8.6" height="112.5" fill="#bebebe"/>
<rect x="253.12" y="689.7" width="8.6" height="2" fill="#000"/>
<rect x="253.12" y="691.7" width="8.6" height="1.3" fill="#bebebe"/>
<rect x="253.12" y="693" width="8.6" height="3.2" fill="#000"/>
<rect x="253.12" y="696.2" width="8.6" height="1.6" fill="#bebebe"/>
<rect x="253.12" y="697.8" width="8.6" height="2" fill="#000"/>
<rect x="253.12" y="699.8" width="8.6" height="2.7" fill="#bebebe"/>
<rect x="253.12" y="702.5" width="8.6" height="12.2" fill="#000"/>
<rect x="253.12" y="714.7" width="8.6" height="4.1" fill="#bebebe"/>
<rect x="253.12" y="718.8" width="8.6" height="10.9" fill="#000"/>
<text x="257.42" y="745.7" text-anchor="middle" font-size="9.8" fill="#1a1a1a">15</text>
<rect x="267.3" y="578.1" width="8.6" height="15.9" fill="#000"/>
<rect x="267.3" y="594" width="8.6" height="5.4" fill="#bebebe"/>
<rect x="267.3" y="599.4" width="8.6" height="125.5" fill="#000"/>
<rect x="267.3" y="724.9" width="8.6" height="3" fill="#bebebe"/>
<rect x="267.3" y="727.9" width="8.6" height="1.8" fill="#000"/>
<text x="271.6" y="745.7" text-anchor="middle" font-size="9.8" fill="#1a1a1a">16</text>
<rect x="281.48" y="569.1" width="8.6" height="18.9" fill="#000"/>
<rect x="281.48" y="588" width="8.6" height="54.2" fill="#bebebe"/>
<rect x="281.48" y="642.2" width="8.6" height="13.3" fill="#000"/>
<rect x="281.48" y="655.5" width="8.6" height="74.2" fill="#bebebe"/>
<text x="285.78" y="745.7" text-anchor="middle" font-size="9.8" fill="#1a1a1a">17</text>
<rect x="295.66" y="583.3" width="8.6" height="23.6" fill="#000"/>
<rect x="295.66" y="606.9" width="8.6" height="60.7" fill="#bebebe"/>
<rect x="295.66" y="667.6" width="8.6" height="47.1" fill="#000"/>
<rect x="295.66" y="714.7" width="8.6" height="7.2" fill="#bebebe"/>
<rect x="295.66" y="721.9" width="8.6" height="2.1" fill="#000"/>
<rect x="295.66" y="724" width="8.6" height="5.7" fill="#bebebe"/>
<text x="299.96" y="745.7" text-anchor="middle" font-size="9.8" fill="#1a1a1a">18</text>
<rect x="309.84" y="586.8" width="8.6" height="119" fill="#000"/>
<rect x="309.84" y="705.8" width="8.6" height="23.9" fill="#bebebe"/>
<text x="314.14" y="745.7" text-anchor="middle" font-size="9.8" fill="#1a1a1a">19</text>
<rect x="324.02" y="589.3" width="8.6" height="11.7" fill="#000"/>
<rect x="324.02" y="601" width="8.6" height="92.1" fill="#bebebe"/>
<rect x="324.02" y="693.1" width="8.6" height="13.8" fill="#000"/>
<rect x="324.02" y="706.9" width="8.6" height="1.1" fill="#bebebe"/>
<rect x="324.02" y="708" width="8.6" height="3.6" fill="#000"/>
<rect x="324.02" y="711.6" width="8.6" height="1.2" fill="#bebebe"/>
<rect x="324.02" y="712.8" width="8.6" height="4.9" fill="#000"/>
<rect x="324.02" y="717.7" width="8.6" height="12" fill="#bebebe"/>
<text x="328.32" y="745.7" text-anchor="middle" font-size="9.8" fill="#1a1a1a">20</text>
<rect x="338.2" y="606.3" width="8.6" height="10.8" fill="#000"/>
<rect x="338.2" y="617.1" width="8.6" height="3.9" fill="#bebebe"/>
<rect x="338.2" y="621" width="8.6" height="2.8" fill="#000"/>
<rect x="338.2" y="623.8" width="8.6" height="4.3" fill="#bebebe"/>
<rect x="338.2" y="628.1" width="8.6" height="1.6" fill="#000"/>
<rect x="338.2" y="629.7" width="8.6" height="18.5" fill="#bebebe"/>
<rect x="338.2" y="648.2" width="8.6" height="2.2" fill="#000"/>
<rect x="338.2" y="650.4" width="8.6" height="16.4" fill="#bebebe"/>
<rect x="338.2" y="666.8" width="8.6" height="3" fill="#000"/>
<rect x="338.2" y="669.8" width="8.6" height="31.2" fill="#bebebe"/>
<rect x="338.2" y="701" width="8.6" height="1" fill="#000"/>
<rect x="338.2" y="702" width="8.6" height="20.5" fill="#bebebe"/>
<rect x="338.2" y="722.5" width="8.6" height="4.1" fill="#000"/>
<rect x="338.2" y="726.6" width="8.6" height="3.1" fill="#bebebe"/>
<text x="342.5" y="745.7" text-anchor="middle" font-size="9.8" fill="#1a1a1a">21</text>
<rect x="352.38" y="613.6" width="8.6" height="32.4" fill="#000"/>
<rect x="352.38" y="646" width="8.6" height="48.3" fill="#bebebe"/>
<rect x="352.38" y="694.3" width="8.6" height="32.3" fill="#000"/>
<rect x="352.38" y="726.6" width="8.6" height="3.1" fill="#bebebe"/>
<text x="356.68" y="745.7" text-anchor="middle" font-size="9.8" fill="#1a1a1a">22</text>
<rect x="366.56" y="623.4" width="8.6" height="10.7" fill="#bebebe"/>
<rect x="366.56" y="634.1" width="8.6" height="19.8" fill="#000"/>
<rect x="366.56" y="653.9" width="8.6" height="2.9" fill="#bebebe"/>
<rect x="366.56" y="656.8" width="8.6" height="24.4" fill="#000"/>
<rect x="366.56" y="681.2" width="8.6" height="5.3" fill="#bebebe"/>
<rect x="366.56" y="686.5" width="8.6" height="15.5" fill="#000"/>
<rect x="366.56" y="702" width="8.6" height="5.6" fill="#bebebe"/>
<rect x="366.56" y="707.6" width="8.6" height="4" fill="#000"/>
<rect x="366.56" y="711.6" width="8.6" height="1.9" fill="#bebebe"/>
<rect x="366.56" y="713.5" width="8.6" height="1.5" fill="#000"/>
<rect x="366.56" y="715" width="8.6" height="1.5" fill="#bebebe"/>
<rect x="366.56" y="716.5" width="8.6" height="1.5" fill="#000"/>
<rect x="366.56" y="718" width="8.6" height="1" fill="#bebebe"/>
<rect x="366.56" y="719" width="8.6" height="1.5" fill="#000"/>
<rect x="366.56" y="720.5" width="8.6" height="1.5" fill="#bebebe"/>
<rect x="366.56" y="722" width="8.6" height="4" fill="#000"/>
<rect x="366.56" y="726" width="8.6" height="3.7" fill="#bebebe"/>
<text x="370.86" y="745.7" text-anchor="middle" font-size="9.8" fill="#1a1a1a">23</text>
<rect x="380.74" y="528.5" width="8.6" height="76.8" fill="#bebebe"/>
<rect x="380.74" y="605.3" width="8.6" height="31.3" fill="#000"/>
<rect x="380.74" y="636.6" width="8.6" height="19" fill="#bebebe"/>
<rect x="380.74" y="655.6" width="8.6" height="74.1" fill="#000"/>
<text x="385.04" y="745.7" text-anchor="middle" font-size="9.8" fill="#1a1a1a">X</text>
<text x="261.2" y="530.6" font-size="14.7">Hap-X</text>
<text x="33.2" y="492" font-size="18.5" font-weight="bold">c</text>
</g>
<g>
<rect x="445.5" y="517" width="8.6" height="61.7" fill="#000"/>
<rect x="445.5" y="578.7" width="8.6" height="36.4" fill="#bebebe"/>
<rect x="445.5" y="615.1" width="8.6" height="11.1" fill="#000"/>
<rect x="445.5" y="626.2" width="8.6" height="1.3" fill="#bebebe"/>
<rect x="445.5" y="627.5" width="8.6" height="2.2" fill="#000"/>
<rect x="445.5" y="629.7" width="8.6" height="9.3" fill="#bebebe"/>
<rect x="445.5" y="639" width="8.6" height="61" fill="#000"/>
<rect x="445.5" y="700" width="8.6" height="6.8" fill="#bebebe"/>
<rect x="445.5" y="706.8" width="8.6" height="22.9" fill="#000"/>
<text x="449.8" y="745.7" text-anchor="middle" font-size="9.8" fill="#1a1a1a">1</text>
<rect x="459.71" y="535.7" width="8.6" height="10.4" fill="#bebebe"/>
<rect x="459.71" y="546.1" width="8.6" height="27.8" fill="#000"/>
<rect x="459.71" y="573.9" width="8.6" height="64.1" fill="#bebebe"/>
<rect x="459.71" y="638" width="8.6" height="21.2" fill="#000"/>
<rect x="459.71" y="659.2" width="8.6" height="18.6" fill="#bebebe"/>
<rect x="459.71" y="677.8" width="8.6" height="29.2" fill="#000"/>
<rect x="459.71" y="707" width="8.6" height="12" fill="#bebebe"/>
<rect x="459.71" y="719" width="8.6" height="10.7" fill="#000"/>
<text x="464.01" y="745.7" text-anchor="middle" font-size="9.8" fill="#1a1a1a">2</text>
<rect x="473.92" y="540" width="8.6" height="16.1" fill="#000"/>
<rect x="473.92" y="556.1" width="8.6" height="6.2" fill="#bebebe"/>
<rect x="473.92" y="562.3" width="8.6" height="1.9" fill="#000"/>
<rect x="473.92" y="564.2" width="8.6" height="104.8" fill="#bebebe"/>
<rect x="473.92" y="669" width="8.6" height="39.8" fill="#000"/>
<rect x="473.92" y="708.8" width="8.6" height="15.2" fill="#bebebe"/>
<rect x="473.92" y="724" width="8.6" height="5.7" fill="#000"/>
<text x="478.22" y="745.7" text-anchor="middle" font-size="9.8" fill="#1a1a1a">3</text>
<rect x="488.13" y="545.4" width="8.6" height="31.5" fill="#bebebe"/>
<rect x="488.13" y="576.9" width="8.6" height="5.1" fill="#000"/>
<rect x="488.13" y="582" width="8.6" height="1" fill="#bebebe"/>
<rect x="488.13" y="583" width="8.6" height="133.1" fill="#000"/>
<rect x="488.13" y="716.1" width="8.6" height="4.4" fill="#bebebe"/>
<rect x="488.13" y="720.5" width="8.6" height="9.2" fill="#000"/>
<text x="492.43" y="745.7" text-anchor="middle" font-size="9.8" fill="#1a1a1a">4</text>
<rect x="502.34" y="542.2" width="8.6" height="10.9" fill="#000"/>
<rect x="502.34" y="553.1" width="8.6" height="159.6" fill="#bebebe"/>
<rect x="502.34" y="712.7" width="8.6" height="1.6" fill="#000"/>
<rect x="502.34" y="714.3" width="8.6" height="9.3" fill="#bebebe"/>
<rect x="502.34" y="723.6" width="8.6" height="6.1" fill="#000"/>
<text x="506.64" y="745.7" text-anchor="middle" font-size="9.8" fill="#1a1a1a">5</text>
<rect x="516.55" y="543.9" width="8.6" height="41.9" fill="#bebebe"/>
<rect x="516.55" y="585.8" width="8.6" height="22" fill="#000"/>
<rect x="516.55" y="607.8" width="8.6" height="121.9" fill="#bebebe"/>
<text x="520.85" y="745.7" text-anchor="middle" font-size="9.8" fill="#1a1a1a">6</text>
<rect x="530.76" y="542.9" width="8.6" height="85.6" fill="#bebebe"/>
<rect x="530.76" y="628.5" width="8.6" height="2.2" fill="#000"/>
<rect x="530.76" y="630.7" width="8.6" height="4.6" fill="#bebebe"/>
<rect x="530.76" y="635.3" width="8.6" height="2.5" fill="#000"/>
<rect x="530.76" y="637.8" width="8.6" height="6" fill="#bebebe"/>
<rect x="530.76" y="643.8" width="8.6" height="85.9" fill="#000"/>
<text x="535.06" y="745.7" text-anchor="middle" font-size="9.8" fill="#1a1a1a">7</text>
<rect x="544.97" y="550.9" width="8.6" height="12.9" fill="#000"/>
<rect x="544.97" y="563.8" width="8.6" height="71.8" fill="#bebebe"/>
<rect x="544.97" y="635.6" width="8.6" height="4.2" fill="#000"/>
<rect x="544.97" y="639.8" width="8.6" height="3.7" fill="#bebebe"/>
<rect x="544.97" y="643.5" width="8.6" height="7" fill="#000"/>
<rect x="544.97" y="650.5" width="8.6" height="1.5" fill="#bebebe"/>
<rect x="544.97" y="652" width="8.6" height="77.7" fill="#000"/>
<text x="549.27" y="745.7" text-anchor="middle" font-size="9.8" fill="#1a1a1a">8</text>
<rect x="559.18" y="552.2" width="8.6" height="62.4" fill="#000"/>
<rect x="559.18" y="614.6" width="8.6" height="32.4" fill="#bebebe"/>
<rect x="559.18" y="647" width="8.6" height="9" fill="#000"/>
<rect x="559.18" y="656" width="8.6" height="27.9" fill="#bebebe"/>
<rect x="559.18" y="683.9" width="8.6" height="42.8" fill="#000"/>
<rect x="559.18" y="726.7" width="8.6" height="3" fill="#bebebe"/>
<text x="563.48" y="745.7" text-anchor="middle" font-size="9.8" fill="#1a1a1a">9</text>
<rect x="573.39" y="557.8" width="8.6" height="171.9" fill="#bebebe"/>
<text x="577.69" y="745.7" text-anchor="middle" font-size="9.8" fill="#1a1a1a">10</text>
<rect x="587.6" y="559" width="8.6" height="36.9" fill="#000"/>
<rect x="587.6" y="595.9" width="8.6" height="50.1" fill="#bebebe"/>
<rect x="587.6" y="646" width="8.6" height="51.6" fill="#000"/>
<rect x="587.6" y="697.6" width="8.6" height="1.4" fill="#bebebe"/>
<rect x="587.6" y="699" width="8.6" height="2" fill="#000"/>
<rect x="587.6" y="701" width="8.6" height="16.8" fill="#bebebe"/>
<rect x="587.6" y="717.8" width="8.6" height="9.5" fill="#000"/>
<rect x="587.6" y="727.3" width="8.6" height="2.4" fill="#bebebe"/>
<text x="591.9" y="745.7" text-anchor="middle" font-size="9.8" fill="#1a1a1a">11</text>
<rect x="601.81" y="564.2" width="8.6" height="36.6" fill="#000"/>
<rect x="601.81" y="600.8" width="8.6" height="84.2" fill="#bebebe"/>
<rect x="601.81" y="685" width="8.6" height="12" fill="#000"/>
<rect x="601.81" y="697" width="8.6" height="8.9" fill="#bebebe"/>
<rect x="601.81" y="705.9" width="8.6" height="15.9" fill="#000"/>
<rect x="601.81" y="721.8" width="8.6" height="7.9" fill="#bebebe"/>
<text x="606.11" y="745.7" text-anchor="middle" font-size="9.8" fill="#1a1a1a">12</text>
<rect x="616.02" y="565.2" width="8.6" height="51.7" fill="#000"/>
<rect x="616.02" y="616.9" width="8.6" height="30.7" fill="#bebebe"/>
<rect x="616.02" y="647.6" width="8.6" height="59" fill="#000"/>
<rect x="616.02" y="706.6" width="8.6" height="23.1" fill="#bebebe"/>
<text x="620.32" y="745.7" text-anchor="middle" font-size="9.8" fill="#1a1a1a">13</text>
<rect x="630.23" y="575.6" width="8.6" height="10.6" fill="#000"/>
<rect x="630.23" y="586.2" width="8.6" height="8.4" fill="#bebebe"/>
<rect x="630.23" y="594.6" width="8.6" height="40.6" fill="#000"/>
<rect x="630.23" y="635.2" width="8.6" height="63.9" fill="#bebebe"/>
<rect x="630.23" y="699.1" width="8.6" height="1.7" fill="#000"/>
<rect x="630.23" y="700.8" width="8.6" height="21.1" fill="#bebebe"/>
<rect x="630.23" y="721.9" width="8.6" height="1.9" fill="#000"/>
<rect x="630.23" y="723.8" width="8.6" height="1.2" fill="#bebebe"/>
<rect x="630.23" y="725" width="8.6" height="2.6" fill="#000"/>
<rect x="630.23" y="727.6" width="8.6" height="2.1" fill="#bebebe"/>
<text x="634.53" y="745.7" text-anchor="middle" font-size="9.8" fill="#1a1a1a">14</text>
<rect x="644.44" y="579.1" width="8.6" height="102.1" fill="#000"/>
<rect x="644.44" y="681.2" width="8.6" height="11.2" fill="#bebebe"/>
<rect x="644.44" y="692.4" width="8.6" height="2" fill="#000"/>
<rect x="644.44" y="694.4" width="8.6" height="1.6" fill="#bebebe"/>
<rect x="644.44" y="696" width="8.6" height="1.4" fill="#000"/>
<rect x="644.44" y="697.4" width="8.6" height="1.6" fill="#bebebe"/>
<rect x="644.44" y="699" width="8.6" height="3.5" fill="#000"/>
<rect x="644.44" y="702.5" width="8.6" height="9.5" fill="#bebebe"/>
<rect x="644.44" y="712" width="8.6" height="11.3" fill="#000"/>
<rect x="644.44" y="723.3" width="8.6" height="6.4" fill="#bebebe"/>
<text x="648.74" y="745.7" text-anchor="middle" font-size="9.8" fill="#1a1a1a">15</text>
<rect x="658.65" y="576.5" width="8.6" height="16.1" fill="#000"/>
<rect x="658.65" y="592.6" width="8.6" height="3.3" fill="#bebebe"/>
<rect x="658.65" y="595.9" width="8.6" height="62.8" fill="#000"/>
<rect x="658.65" y="658.7" width="8.6" height="71" fill="#bebebe"/>
<text x="662.95" y="745.7" text-anchor="middle" font-size="9.8" fill="#1a1a1a">16</text>
<rect x="672.86" y="569.4" width="8.6" height="12.3" fill="#bebebe"/>
<rect x="672.86" y="581.7" width="8.6" height="11.6" fill="#000"/>
<rect x="672.86" y="593.3" width="8.6" height="35.8" fill="#bebebe"/>
<rect x="672.86" y="629.1" width="8.6" height="26" fill="#000"/>
<rect x="672.86" y="655.1" width="8.6" height="74.6" fill="#bebebe"/>
<text x="677.16" y="745.7" text-anchor="middle" font-size="9.8" fill="#1a1a1a">17</text>
<rect x="687.07" y="582.9" width="8.6" height="23.9" fill="#bebebe"/>
<rect x="687.07" y="606.8" width="8.6" height="116.1" fill="#000"/>
<rect x="687.07" y="722.9" width="8.6" height="2.7" fill="#bebebe"/>
<rect x="687.07" y="725.6" width="8.6" height="4.1" fill="#000"/>
<text x="691.37" y="745.7" text-anchor="middle" font-size="9.8" fill="#1a1a1a">18</text>
<rect x="701.28" y="587.1" width="8.6" height="15.1" fill="#bebebe"/>
<rect x="701.28" y="602.2" width="8.6" height="50.8" fill="#000"/>
<rect x="701.28" y="653" width="8.6" height="75.7" fill="#bebebe"/>
<rect x="701.28" y="728.7" width="8.6" height="1" fill="#000"/>
<text x="705.58" y="745.7" text-anchor="middle" font-size="9.8" fill="#1a1a1a">19</text>
<rect x="715.49" y="589" width="8.6" height="89.7" fill="#000"/>
<rect x="715.49" y="678.7" width="8.6" height="13.3" fill="#bebebe"/>
<rect x="715.49" y="692" width="8.6" height="1" fill="#000"/>
<rect x="715.49" y="693" width="8.6" height="13.1" fill="#bebebe"/>
<rect x="715.49" y="706.1" width="8.6" height="2.7" fill="#000"/>
<rect x="715.49" y="708.8" width="8.6" height="4.8" fill="#bebebe"/>
<rect x="715.49" y="713.6" width="8.6" height="8.6" fill="#000"/>
<rect x="715.49" y="722.2" width="8.6" height="7.5" fill="#bebebe"/>
<text x="719.79" y="745.7" text-anchor="middle" font-size="9.8" fill="#1a1a1a">20</text>
<rect x="729.7" y="607" width="8.6" height="14.8" fill="#000"/>
<rect x="729.7" y="621.8" width="8.6" height="2.7" fill="#bebebe"/>
<rect x="729.7" y="624.5" width="8.6" height="23.7" fill="#000"/>
<rect x="729.7" y="648.2" width="8.6" height="14.1" fill="#bebebe"/>
<rect x="729.7" y="662.3" width="8.6" height="4.5" fill="#000"/>
<rect x="729.7" y="666.8" width="8.6" height="14.8" fill="#bebebe"/>
<rect x="729.7" y="681.6" width="8.6" height="14.9" fill="#000"/>
<rect x="729.7" y="696.5" width="8.6" height="3.7" fill="#bebebe"/>
<rect x="729.7" y="700.2" width="8.6" height="27.5" fill="#000"/>
<rect x="729.7" y="727.7" width="8.6" height="2" fill="#bebebe"/>
<text x="734" y="745.7" text-anchor="middle" font-size="9.8" fill="#1a1a1a">21</text>
<rect x="743.91" y="613.6" width="8.6" height="32.4" fill="#000"/>
<rect x="743.91" y="646" width="8.6" height="53.9" fill="#bebebe"/>
<rect x="743.91" y="699.9" width="8.6" height="26.3" fill="#000"/>
<rect x="743.91" y="726.2" width="8.6" height="3.5" fill="#bebebe"/>
<text x="748.21" y="745.7" text-anchor="middle" font-size="9.8" fill="#1a1a1a">22</text>
<rect x="758.12" y="624.1" width="8.6" height="11.8" fill="#bebebe"/>
<rect x="758.12" y="635.9" width="8.6" height="2.7" fill="#000"/>
<rect x="758.12" y="638.6" width="8.6" height="40.1" fill="#bebebe"/>
<rect x="758.12" y="678.7" width="8.6" height="8.4" fill="#000"/>
<rect x="758.12" y="687.1" width="8.6" height="6" fill="#bebebe"/>
<rect x="758.12" y="693.1" width="8.6" height="15.3" fill="#000"/>
<rect x="758.12" y="708.4" width="8.6" height="2.5" fill="#bebebe"/>
<rect x="758.12" y="710.9" width="8.6" height="7.9" fill="#000"/>
<rect x="758.12" y="718.8" width="8.6" height="10.9" fill="#bebebe"/>
<text x="762.42" y="745.7" text-anchor="middle" font-size="9.8" fill="#1a1a1a">23</text>
<rect x="772.33" y="530" width="8.6" height="199.7" fill="#bebebe"/>
<text x="776.63" y="745.7" text-anchor="middle" font-size="9.8" fill="#1a1a1a">Y</text>
<text x="676.9" y="530.6" font-size="14.7">Hap-Y</text>
<text x="431.5" y="502.5" font-size="18.5">d</text>
</g>
<g id="panel-e">
<text x="805" y="445" font-size="18.5" font-weight="bold">e</text>
<path d="M888.4 429V731M903.2 429V731M917.4 429V731M931.5 429V731M945.4 429V731M959.6 429V731M973.4 429V731M986.7 429V731M1000.2 429V731M1013.2 429V731M1026 429V731M1038.1 429V731M1050.4 429V731M1062.1 429V731M1073.4 429V731M1084.7 429V731M1096.5 429V731M1108.1 429V731M1119.1 429V731M1129.1 429V731M1138.5 429V731M1146.6 429V731M1154.7 429V731M1163.8 429V731M1170.1 429V731M872.4 435.4H1174.6M872.4 450.7H1174.6M872.4 458.3H1174.6M872.4 466.7H1174.6M872.4 475.7H1174.6M872.4 486.4H1174.6M872.4 496.9H1174.6M872.4 508.3H1174.6M872.4 519.5H1174.6M872.4 530.7H1174.6M872.4 542.6H1174.6M872.4 553.7H1174.6M872.4 566.4H1174.6M872.4 578.4H1174.6M872.4 591.2H1174.6M872.4 604H1174.6M872.4 617.1H1174.6M872.4 630.7H1174.6M872.4 644.7H1174.6M872.4 658.4H1174.6M872.4 672.3H1174.6M872.4 686.3H1174.6M872.4 700.8H1174.6M872.4 714.7H1174.6" stroke="#7c7c7c" stroke-width="0.9" stroke-dasharray="3.1 3.5" fill="none"/>
<circle cx="912" cy="429.2" r="1.2" fill="#333"/>
<circle cx="916.8" cy="429.2" r="1.1" fill="#333"/>
<circle cx="903.1" cy="434.2" r="1.3" fill="#222"/>
<circle cx="931.6" cy="432.2" r="1.8" fill="#e8c060"/>
<circle cx="931.6" cy="433.4" r="1.3" fill="#222"/>
<circle cx="945" cy="434.4" r="1.1" fill="#d07a40"/>
<circle cx="966.5" cy="431.8" r="1.5" fill="#c87a50"/>
<circle cx="967.1" cy="429.3" r="1.1" fill="#333"/>
<circle cx="996.2" cy="429.2" r="1.1" fill="#333"/>
<circle cx="999.1" cy="429.2" r="1.1" fill="#333"/>
<circle cx="1027.6" cy="435.2" r="1.9" fill="#ece27a"/>
<circle cx="887.4" cy="458.4" r="1.2" fill="#e0905a"/>
<circle cx="1033.6" cy="430" r="1" fill="#333"/>
<circle cx="1038.1" cy="430" r="1.1" fill="#4a9a4a"/>
<circle cx="1062" cy="430" r="1" fill="#333"/>
<circle cx="1073.4" cy="430" r="1" fill="#2a6a3a"/>
<circle cx="1073.4" cy="440.8" r="1.3" fill="#222"/>
<circle cx="1083.3" cy="430" r="1" fill="#333"/>
<circle cx="1096.9" cy="430" r="1" fill="#333"/>
<circle cx="1096.9" cy="434.5" r="1.1" fill="#222"/>
<circle cx="1096.9" cy="440.8" r="1.3" fill="#222"/>
<circle cx="1120.4" cy="429.4" r="1.4" fill="#e08a40"/>
<circle cx="1137.6" cy="432.7" r="1" fill="#60b060"/>
<circle cx="1146.2" cy="433.2" r="1.7" fill="#e0b040"/>
<circle cx="1146.8" cy="433.6" r="1.2" fill="#222"/>
<circle cx="1163.8" cy="429.4" r="1.2" fill="#333"/>
<circle cx="1163.8" cy="434.5" r="1.1" fill="#222"/>
<circle cx="1163.8" cy="444.4" r="1.2" fill="#222"/>
<circle cx="1172.8" cy="440.8" r="1.2" fill="#3a8a3a"/>
<circle cx="1050.7" cy="471.5" r="1.2" fill="#222"/>
<circle cx="1096.9" cy="484.2" r="1.2" fill="#222"/>
<circle cx="1163.8" cy="484.7" r="1.2" fill="#222"/>
<circle cx="1161.1" cy="512.6" r="1.5" fill="#222"/>
<circle cx="1161" cy="541.4" r="1.3" fill="#c87a50"/>
<circle cx="1172.8" cy="467.9" r="1.3" fill="#2a6a3a"/>
<circle cx="1172.8" cy="472.5" r="1.3" fill="#2a6a3a"/>
<circle cx="1170.1" cy="496.9" r="1.2" fill="#e8c860"/>
<circle cx="1171.9" cy="507.7" r="1.1" fill="#4a9a4a"/>
<circle cx="1170.1" cy="552.3" r="1.6" fill="#a0c860"/>
<circle cx="1172.3" cy="552.8" r="1.2" fill="#2a7a3a"/>
<circle cx="1169.5" cy="576.4" r="1.1" fill="#333"/>
<circle cx="1169.5" cy="591.2" r="1.2" fill="#e8d070"/>
<circle cx="1170.3" cy="604" r="1.2" fill="#2a6a3a"/>
<circle cx="1145.3" cy="630.4" r="1" fill="#e0a080"/>
<circle cx="1170.3" cy="630.4" r="1" fill="#a0d080"/>
<circle cx="1170.9" cy="640" r="1.2" fill="#80c060"/>
<circle cx="1171.7" cy="673" r="1" fill="#a0d080"/>
<circle cx="1171.7" cy="707.8" r="1.3" fill="#2a7a4a"/>
<circle cx="1173.2" cy="723.4" r="1.3" fill="#e8d060"/>
<circle cx="931.4" cy="603.8" r="1.1" fill="#90c870"/>
<circle cx="1033.4" cy="590.7" r="1.1" fill="#222"/>
<line x1="872.4" y1="731" x2="1174.6" y2="429" stroke="#1c4826" stroke-width="2.8"/>
<circle cx="1172" cy="431.4" r="4.0" fill="#206a30"/>
<rect x="872.4" y="429" width="302.2" height="302" fill="none" stroke="#222" stroke-width="1.1"/>
<line x1="868" y1="700.72" x2="872.4" y2="700.72" stroke="#222" stroke-width="0.9"/>
<text transform="translate(865.4 700.72) rotate(-90)" text-anchor="middle" font-size="8.2" font-weight="bold" textLength="14.5" lengthAdjust="spacingAndGlyphs" fill="#333">59.2M</text>
<line x1="868" y1="670.44" x2="872.4" y2="670.44" stroke="#222" stroke-width="0.9"/>
<text transform="translate(865.4 670.44) rotate(-90)" text-anchor="middle" font-size="8.2" font-weight="bold" textLength="19" lengthAdjust="spacingAndGlyphs" fill="#333">118.5M</text>
<line x1="868" y1="640.16" x2="872.4" y2="640.16" stroke="#222" stroke-width="0.9"/>
<text transform="translate(865.4 640.16) rotate(-90)" text-anchor="middle" font-size="8.2" font-weight="bold" textLength="20.5" lengthAdjust="spacingAndGlyphs" fill="#333">177.7 M</text>
<line x1="868" y1="609.88" x2="872.4" y2="609.88" stroke="#222" stroke-width="0.9"/>
<text transform="translate(865.4 609.88) rotate(-90)" text-anchor="middle" font-size="8.2" font-weight="bold" textLength="20.5" lengthAdjust="spacingAndGlyphs" fill="#333">236.9 M</text>
<line x1="868" y1="579.6" x2="872.4" y2="579.6" stroke="#222" stroke-width="0.9"/>
<text transform="translate(865.4 579.6) rotate(-90)" text-anchor="middle" font-size="8.2" font-weight="bold" textLength="20.5" lengthAdjust="spacingAndGlyphs" fill="#333">296.2 M</text>
<line x1="868" y1="549.32" x2="872.4" y2="549.32" stroke="#222" stroke-width="0.9"/>
<text transform="translate(865.4 549.32) rotate(-90)" text-anchor="middle" font-size="8.2" font-weight="bold" textLength="20.5" lengthAdjust="spacingAndGlyphs" fill="#333">355.4 M</text>
<line x1="868" y1="519.04" x2="872.4" y2="519.04" stroke="#222" stroke-width="0.9"/>
<text transform="translate(865.4 519.04) rotate(-90)" text-anchor="middle" font-size="8.2" font-weight="bold" textLength="20.5" lengthAdjust="spacingAndGlyphs" fill="#333">414.6 M</text>
<line x1="868" y1="488.76" x2="872.4" y2="488.76" stroke="#222" stroke-width="0.9"/>
<text transform="translate(865.4 488.76) rotate(-90)" text-anchor="middle" font-size="8.2" font-weight="bold" textLength="20.5" lengthAdjust="spacingAndGlyphs" fill="#333">473.9 M</text>
<line x1="868" y1="458.48" x2="872.4" y2="458.48" stroke="#222" stroke-width="0.9"/>
<text transform="translate(865.4 458.48) rotate(-90)" text-anchor="middle" font-size="8.2" font-weight="bold" textLength="20.5" lengthAdjust="spacingAndGlyphs" fill="#333">533.1 M</text>
<text x="880.4" y="744" text-anchor="middle" font-size="8.4" fill="#111">1</text>
<text x="895.8" y="744" text-anchor="middle" font-size="8.4" fill="#111">2</text>
<text x="910.3" y="744" text-anchor="middle" font-size="8.4" fill="#111">3</text>
<text x="924.45" y="744" text-anchor="middle" font-size="8.4" fill="#111">4</text>
<text x="938.45" y="744" text-anchor="middle" font-size="8.4" fill="#111">5</text>
<text x="952.5" y="744" text-anchor="middle" font-size="8.4" fill="#111">6</text>
<text x="966.5" y="744" text-anchor="middle" font-size="8.4" fill="#111">7</text>
<text x="980.05" y="744" text-anchor="middle" font-size="8.4" fill="#111">8</text>
<text x="993.45" y="744" text-anchor="middle" font-size="8.4" fill="#111">9</text>
<text x="1006.7" y="744" text-anchor="middle" font-size="8.4" fill="#111">10</text>
<text x="1019.6" y="744" text-anchor="middle" font-size="8.4" fill="#111">11</text>
<text x="1032.05" y="744" text-anchor="middle" font-size="8.4" fill="#111">12</text>
<text x="1044.25" y="744" text-anchor="middle" font-size="8.4" fill="#111">13</text>
<text x="1056.25" y="744" text-anchor="middle" font-size="8.4" fill="#111">14</text>
<text x="1067.75" y="744" text-anchor="middle" font-size="8.4" fill="#111">15</text>
<text x="1079.05" y="744" text-anchor="middle" font-size="8.4" fill="#111">16</text>
<text x="1090.6" y="744" text-anchor="middle" font-size="8.4" fill="#111">17</text>
<text x="1102.3" y="744" text-anchor="middle" font-size="8.4" fill="#111">18</text>
<text x="1113.6" y="744" text-anchor="middle" font-size="8.4" fill="#111">19</text>
<text x="1124.1" y="744" text-anchor="middle" font-size="8.4" fill="#111">20</text>
<text x="1133.8" y="744" text-anchor="middle" font-size="8.4" fill="#111">21</text>
<text x="1141.2" y="744" text-anchor="middle" font-size="8.4" fill="#111">22</text>
<text x="1150.2" y="744" text-anchor="middle" font-size="8.4" fill="#111">23</text>
<text x="1162.9" y="744" text-anchor="middle" font-size="8.4" fill="#111">Y</text>
<text x="1178.6" y="725.85" font-size="8.4" fill="#222">1</text>
<text x="1178.6" y="710.75" font-size="8.4" fill="#222">2</text>
<text x="1178.6" y="696.55" font-size="8.4" fill="#222">3</text>
<text x="1178.6" y="682.3" font-size="8.4" fill="#222">4</text>
<text x="1178.6" y="668.35" font-size="8.4" fill="#222">5</text>
<text x="1178.6" y="654.55" font-size="8.4" fill="#222">6</text>
<text x="1178.6" y="640.7" font-size="8.4" fill="#222">7</text>
<text x="1178.6" y="626.9" font-size="8.4" fill="#222">8</text>
<text x="1178.6" y="613.55" font-size="8.4" fill="#222">9</text>
<text x="1178.6" y="600.6" font-size="8.4" fill="#222">10</text>
<text x="1178.6" y="587.8" font-size="8.4" fill="#222">11</text>
<text x="1178.6" y="575.4" font-size="8.4" fill="#222">12</text>
<text x="1178.6" y="563.05" font-size="8.4" fill="#222">13</text>
<text x="1178.6" y="551.15" font-size="8.4" fill="#222">14</text>
<text x="1178.6" y="539.65" font-size="8.4" fill="#222">15</text>
<text x="1178.6" y="528.1" font-size="8.4" fill="#222">16</text>
<text x="1178.6" y="516.9" font-size="8.4" fill="#222">17</text>
<text x="1178.6" y="505.6" font-size="8.4" fill="#222">18</text>
<text x="1178.6" y="494.65" font-size="8.4" fill="#222">19</text>
<text x="1178.6" y="484.05" font-size="8.4" fill="#222">20</text>
<text x="1178.6" y="474.2" font-size="8.4" fill="#222">21</text>
<text x="1178.6" y="465.5" font-size="8.4" fill="#222">22</text>
<text x="1178.6" y="457.5" font-size="8.4" fill="#222">23</text>
<text x="1178.6" y="446.05" font-size="8.4" fill="#222">X</text>
<text x="1026.4" y="762" text-anchor="middle" font-size="13.8">Hap-Y</text>
<text transform="translate(1213.2 577) rotate(-90)" text-anchor="middle" font-size="13.8">Hap-X</text>
</g>
</svg></body></html>
